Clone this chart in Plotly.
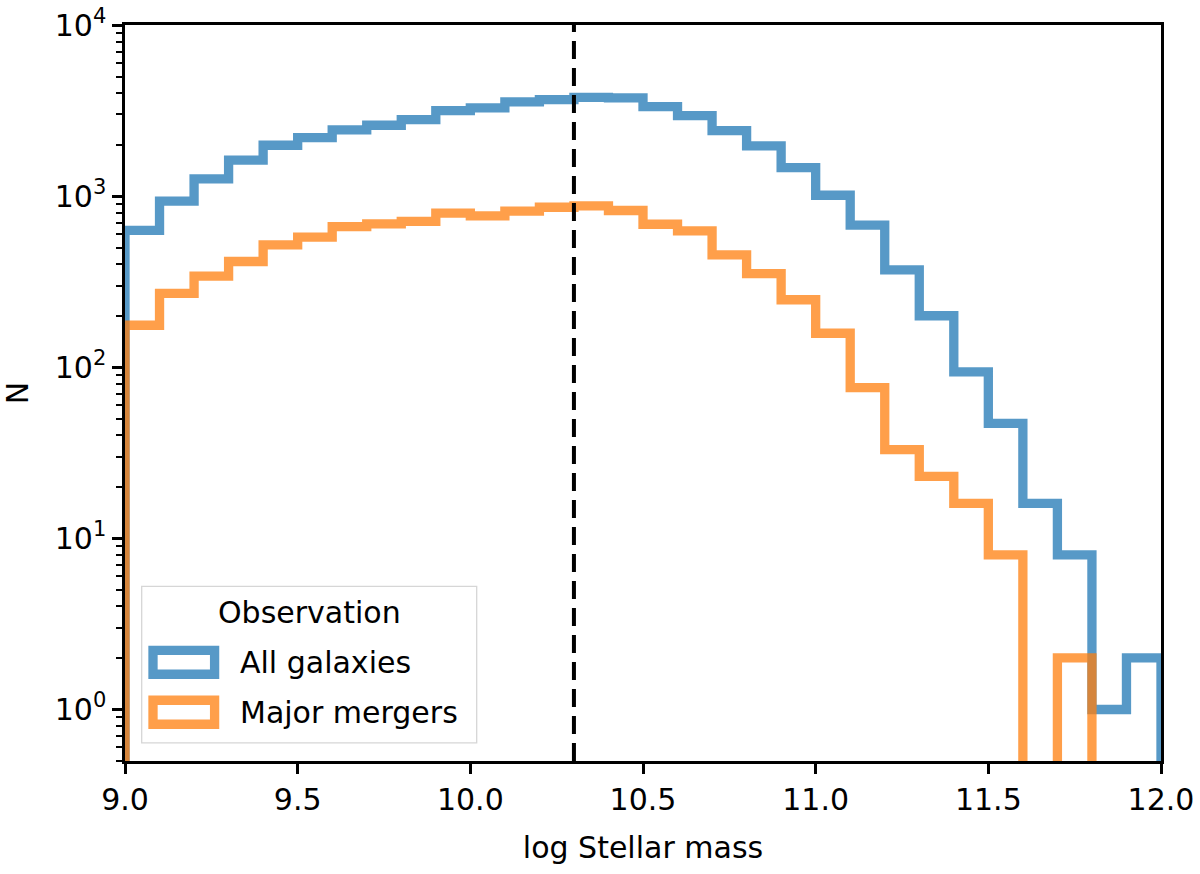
import numpy as np
import plotly.graph_objects as go

# histogram bins in log stellar mass
bin_edges = np.linspace(9.0, 12.0, 31)

all_galaxies = [631, 934, 1261, 1622, 1983, 2198, 2438, 2596, 2800, 3162,
                3276, 3550, 3663, 3780, 3750, 3335, 2951, 2415, 1965, 1468,
                1012, 676, 371, 200, 94, 47, 16, 8, 1, 2]
major_mergers = [176, 270, 341, 415, 519, 576, 664, 689, 711, 795,
                 767, 817, 861, 877, 824, 685, 627, 454, 352, 248,
                 158, 76, 33, 23, 16, 8, 0, 2, 0, 0]

mass_cut = 10.3
legend_title = "Observation"
legend_names = ["All galaxies", "Major mergers"]
colors = ["rgba(31,119,180,0.75)", "rgba(255,127,14,0.75)"]

y_ticks = [1, 10, 100, 1000, 10000]
y_ticktext = ["10<sup>0</sup>", "10<sup>1</sup>", "10<sup>2</sup>",
              "10<sup>3</sup>", "10<sup>4</sup>"]

FONT = "DejaVu Sans"
W, H = 1200, 874
L, R, T, B = 125, 39, 25, 112.5
FLOOR = 0.01  # empty bins drop below the axis, like matplotlib's step outline


def step_xy(edges, counts):
    c = np.asarray(counts, dtype=float)
    c = np.where(c > 0, c, FLOOR)
    x = np.concatenate([[edges[0]], edges])
    y = np.concatenate([[FLOOR], c, [FLOOR]])
    return x, y


def px(x):
    return (x - L) / (W - L - R)


def py(y):
    return (H - B - y) / (H - T - B)


fig = go.Figure()

for counts, col in zip([all_galaxies, major_mergers], colors):
    x, y = step_xy(bin_edges, counts)
    fig.add_trace(go.Scatter(x=x, y=y, mode="lines", line_shape="hv",
                             line=dict(color=col, width=9.3),
                             showlegend=False, hoverinfo="skip"))

fig.add_shape(type="line", xref="x", yref="paper", x0=mass_cut, x1=mass_cut,
              y0=0, y1=1, line=dict(color="black", width=4, dash="18px,9px"))

# legend box drawn by hand (matplotlib-style hollow patches)
fig.add_shape(type="rect", xref="paper", yref="paper",
              x0=px(141.7), x1=px(476.7), y0=py(743.3), y1=py(586.7),
              line=dict(color="#d6d6d6", width=1.3),
              fillcolor="rgba(255,255,255,0.8)", layer="above")
fig.add_annotation(xref="paper", yref="paper", x=px(309), y=py(613),
                   text=legend_title, showarrow=False,
                   font=dict(family=FONT, size=30, color="black"),
                   xanchor="center", yanchor="middle")
for i, (name, col) in enumerate(zip(legend_names, colors)):
    yc = 662.7 + i * 50
    fig.add_shape(type="rect", xref="paper", yref="paper",
                  x0=px(153), x1=px(214.6), y0=py(yc + 12), y1=py(yc - 12),
                  line=dict(color=col, width=9.3), fillcolor="white",
                  layer="above")
    fig.add_annotation(xref="paper", yref="paper", x=px(238), y=py(yc),
                       text=name, showarrow=False,
                       font=dict(family=FONT, size=30, color="black"),
                       xanchor="left", yanchor="middle")

axis_common = dict(showline=True, linewidth=2.5, linecolor="black",
                   mirror=True, ticks="outside", ticklen=10, tickwidth=2.5,
                   tickcolor="black", showgrid=False, zeroline=False,
                   automargin=False,
                   tickfont=dict(family=FONT, size=30, color="black"))

minor_vals = [k * 10.0 ** e for e in range(-1, 4) for k in range(2, 10)]
minor_vals = [v for v in minor_vals if 0.5 <= v <= 10000]

fig.update_layout(
    width=W, height=H,
    margin=dict(l=L, r=R, t=T, b=B),
    plot_bgcolor="white", paper_bgcolor="white",
    font=dict(family=FONT, color="black"),
    xaxis=dict(range=[9.0, 12.0], tickvals=[9.0, 9.5, 10.0, 10.5, 11.0, 11.5, 12.0],
               ticktext=["9.0", "9.5", "10.0", "10.5", "11.0", "11.5", "12.0"],
               title=dict(text="log Stellar mass", standoff=22,
                          font=dict(family=FONT, size=30)),
               **axis_common),
    yaxis=dict(type="log", range=[np.log10(0.5), 4],
               tickvals=y_ticks, ticktext=y_ticktext,
               minor=dict(tickvals=minor_vals, ticks="outside", ticklen=6,
                          tickwidth=2, tickcolor="black"),
               title=dict(text="N", standoff=18,
                          font=dict(family=FONT, size=30)),
               **axis_common),
)

# drop the default page margin so the figure sits at the window's corner
fig.write_html("out.html", config={"displayModeBar": False},
               post_script="document.body.style.margin='0px';")
